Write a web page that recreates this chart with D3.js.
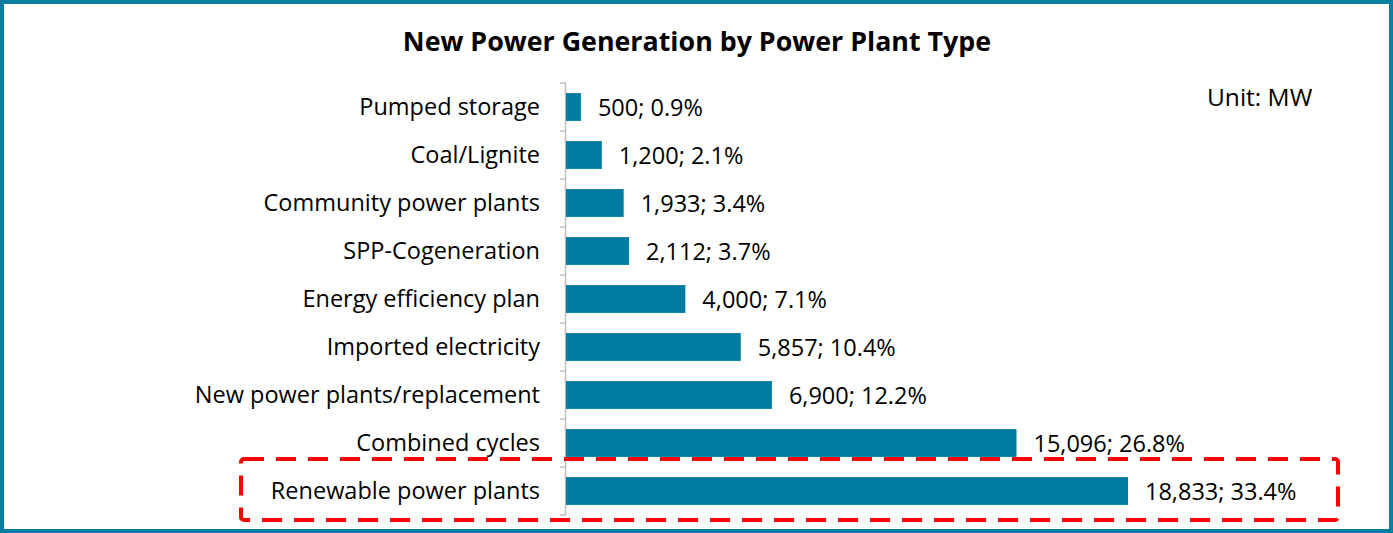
<!DOCTYPE html>
<html>
<meta charset="utf-8">
<style>
  body { margin: 0; background: #fff; }
  text { font-family: "Open Sans", "Noto Sans", sans-serif; fill: #000; }
  .title { font-weight: bold; font-size: 26.8px; }
  .cat, .val { font-size: 23.5px; }
  .unit { font-size: 24.5px; }
</style>
<body>
<script src="https://d3js.org/d3.v7.min.js"></script>
<script>
  // chart data
  let categories = ["Pumped storage", "Coal/Lignite", "Community power plants", "SPP-Cogeneration",
    "Energy efficiency plan", "Imported electricity", "New power plants/replacement",
    "Combined cycles", "Renewable power plants"];
  let values = [500, 1200, 1933, 2112, 4000, 5857, 6900, 15096, 18833];
  let shares = ["0.9%", "2.1%", "3.4%", "3.7%", "7.1%", "10.4%", "12.2%", "26.8%", "33.4%"];
  let highlighted = "Renewable power plants";

  let width = 1393, height = 533;
  let margin = {top: 83, left: 566, bottom: 18};

  let svg = d3.select("body").append("svg")
    .attr("width", width)
    .attr("height", height);

  // frame
  svg.append("rect")
    .attr("x", 2).attr("y", 2)
    .attr("width", width - 4).attr("height", height - 4)
    .attr("fill", "#fff")
    .attr("stroke", "#0a7ea1")
    .attr("stroke-width", 4);

  svg.append("text")
    .attr("class", "title")
    .attr("x", 697).attr("y", 51)
    .attr("text-anchor", "middle")
    .text("New Power Generation by Power Plant Type");

  svg.append("text")
    .attr("class", "unit")
    .attr("x", 1207).attr("y", 106)
    .text("Unit: MW");

  let x = d3.scaleLinear()
    .domain([0, 18833])
    .range([margin.left, 1128]);

  let y = d3.scaleBand()
    .domain(categories)
    .range([margin.top, height - margin.bottom])
    .paddingInner(0.42)
    .paddingOuter(0.21);

  // axis line with ticks at category boundaries
  let axisColor = "#bfbfbf";
  svg.append("line")
    .attr("x1", margin.left - 0.5).attr("x2", margin.left - 0.5)
    .attr("y1", margin.top).attr("y2", height - margin.bottom)
    .attr("stroke", axisColor).attr("stroke-width", 1.5);

  let step = y.step();
  svg.selectAll(".tick")
    .data(d3.range(categories.length + 1))
    .join("line")
      .attr("class", "tick")
      .attr("x1", margin.left - 6).attr("x2", margin.left)
      .attr("y1", i => margin.top + i * step)
      .attr("y2", i => margin.top + i * step)
      .attr("stroke", axisColor).attr("stroke-width", 1.5);

  svg.selectAll(".bar")
    .data(categories)
    .join("rect")
      .attr("class", "bar")
      .attr("x", x(0))
      .attr("y", d => y(d))
      .attr("width", (d, i) => x(values[i]) - x(0))
      .attr("height", y.bandwidth())
      .attr("fill", "#007ba0");

  svg.selectAll(".cat")
    .data(categories)
    .join("text")
      .attr("class", "cat")
      .attr("x", 540)
      .attr("y", d => y(d) + y.bandwidth() / 2)
      .attr("dy", "0.35em")
      .attr("text-anchor", "end")
      .text(d => d);

  svg.selectAll(".val")
    .data(categories)
    .join("text")
      .attr("class", "val")
      .attr("x", (d, i) => x(values[i]) + 17)
      .attr("y", d => y(d) + y.bandwidth() / 2 + 1)
      .attr("dy", "0.35em")
      .text((d, i) => d3.format(",")(values[i]) + "; " + shares[i]);

  // red dashed highlight around the renewable row
  let hy = y(highlighted);
  svg.append("rect")
    .attr("x", 241).attr("y", hy - 18)
    .attr("width", 1097).attr("height", y.bandwidth() + 33)
    .attr("rx", 3)
    .attr("fill", "none")
    .attr("stroke", "#ff0000")
    .attr("stroke-width", 4)
    .attr("stroke-dasharray", "20,12");
</script>
</body>
</html>
